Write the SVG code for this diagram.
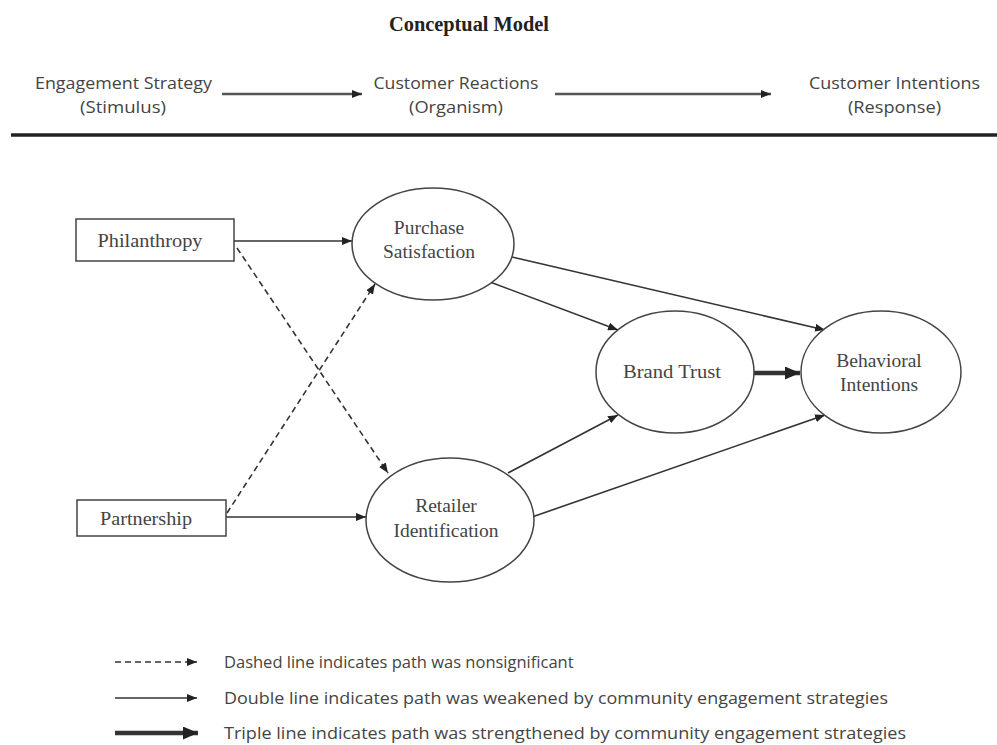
<svg xmlns="http://www.w3.org/2000/svg" width="997" height="745" viewBox="0 0 997 745">
<style>
.title{font-family:"Liberation Serif","Times New Roman",serif;font-weight:bold;font-size:20px;fill:#222}
.hdr{font-family:"Open Sans","Liberation Sans",sans-serif;font-size:17px;fill:#444}
.lg{font-family:"Open Sans","Liberation Sans",sans-serif;font-size:16.5px;fill:#444}
.nt{font-family:"Liberation Serif","Times New Roman",serif;font-size:19.5px;fill:#444}
.shape{fill:#fff;stroke:#444;stroke-width:1.5}
.conn{stroke:#333;stroke-width:1.6;fill:none}
.dash{stroke-dasharray:6,4}
.thick{stroke:#333;stroke-width:4.5;fill:none}
.hdrline{stroke:#555;stroke-width:2.6;fill:none}
</style>
<defs>
<marker id="arr" markerUnits="userSpaceOnUse" markerWidth="10" markerHeight="8" refX="10" refY="4" orient="auto">
<path d="M0,0 L10,4 L0,8 z" fill="#222"/>
</marker>
<marker id="big" markerUnits="userSpaceOnUse" markerWidth="15" markerHeight="13" refX="15" refY="6.5" orient="auto">
<path d="M0,0 L15,6.5 L0,13 z" fill="#222"/>
</marker>
</defs>

<text class="title" x="469" y="31" text-anchor="middle" textLength="160" lengthAdjust="spacingAndGlyphs">Conceptual Model</text>

<g id="header">
<text class="hdr" x="123.5" y="89" text-anchor="middle" textLength="177" lengthAdjust="spacingAndGlyphs">Engagement Strategy</text>
<text class="hdr" x="123" y="113" text-anchor="middle" textLength="86" lengthAdjust="spacingAndGlyphs">(Stimulus)</text>
<text class="hdr" x="456" y="89" text-anchor="middle" textLength="165" lengthAdjust="spacingAndGlyphs">Customer Reactions</text>
<text class="hdr" x="456" y="113" text-anchor="middle" textLength="94" lengthAdjust="spacingAndGlyphs">(Organism)</text>
<text class="hdr" x="894.5" y="89" text-anchor="middle" textLength="171" lengthAdjust="spacingAndGlyphs">Customer Intentions</text>
<text class="hdr" x="894.5" y="113" text-anchor="middle" textLength="93" lengthAdjust="spacingAndGlyphs">(Response)</text>
<line class="hdrline" x1="222" y1="94" x2="362" y2="94" marker-end="url(#arr)"/>
<line class="hdrline" x1="555" y1="94" x2="771" y2="94" marker-end="url(#arr)"/>
<line x1="11" y1="135" x2="997" y2="135" stroke="#222" stroke-width="3.5"/>
</g>

<g id="connectors">
<line class="conn" x1="234" y1="241" x2="352" y2="241" marker-end="url(#arr)"/>
<line class="conn" x1="226" y1="517" x2="366" y2="517" marker-end="url(#arr)"/>
<line class="conn dash" x1="237" y1="248" x2="388" y2="473" marker-end="url(#arr)"/>
<line class="conn dash" x1="227" y1="513" x2="375" y2="284" marker-end="url(#arr)"/>
<line class="conn" x1="490" y1="282" x2="618" y2="330" marker-end="url(#arr)"/>
<line class="conn" x1="512" y1="257" x2="825" y2="330" marker-end="url(#arr)"/>
<line class="conn" x1="508" y1="473" x2="618" y2="415" marker-end="url(#arr)"/>
<line class="conn" x1="532" y1="517" x2="825" y2="415" marker-end="url(#arr)"/>
<line class="thick" x1="754" y1="373" x2="800" y2="373" marker-end="url(#big)"/>
</g>

<g id="philanthropy">
<rect class="shape" x="76" y="219" width="158" height="42"/>
<text class="nt" x="150" y="247" text-anchor="middle" textLength="105" lengthAdjust="spacingAndGlyphs">Philanthropy</text>
</g>
<g id="partnership">
<rect class="shape" x="77" y="500" width="149" height="36"/>
<text class="nt" x="146" y="525" text-anchor="middle" textLength="92" lengthAdjust="spacingAndGlyphs">Partnership</text>
</g>
<g id="purchase-satisfaction">
<ellipse class="shape" cx="433" cy="244" rx="81" ry="56"/>
<text class="nt" x="429" y="234" text-anchor="middle">Purchase</text>
<text class="nt" x="429" y="258" text-anchor="middle">Satisfaction</text>
</g>
<g id="retailer-identification">
<ellipse class="shape" cx="450" cy="520" rx="84" ry="62"/>
<text class="nt" x="446" y="512" text-anchor="middle">Retailer</text>
<text class="nt" x="446" y="537" text-anchor="middle">Identification</text>
</g>
<g id="brand-trust">
<ellipse class="shape" cx="675" cy="372" rx="79" ry="61"/>
<text class="nt" x="672" y="378" text-anchor="middle" textLength="98" lengthAdjust="spacingAndGlyphs">Brand Trust</text>
</g>
<g id="behavioral-intentions">
<ellipse class="shape" cx="881" cy="372" rx="80" ry="61"/>
<text class="nt" x="879" y="367" text-anchor="middle">Behavioral</text>
<text class="nt" x="879" y="391" text-anchor="middle">Intentions</text>
</g>

<g id="legend">
<line class="conn dash" x1="115" y1="662" x2="197" y2="662" marker-end="url(#arr)"/>
<line class="conn" x1="115" y1="698" x2="197" y2="698" marker-end="url(#arr)"/>
<line class="thick" x1="115" y1="733" x2="198" y2="733" marker-end="url(#big)"/>
<text class="lg" x="224" y="668">Dashed line indicates path was nonsignificant</text>
<text class="lg" x="224" y="704" textLength="664" lengthAdjust="spacingAndGlyphs">Double line indicates path was weakened by community engagement strategies</text>
<text class="lg" x="224" y="739" textLength="682" lengthAdjust="spacingAndGlyphs">Triple line indicates path was strengthened by community engagement strategies</text>
</g>
</svg>
